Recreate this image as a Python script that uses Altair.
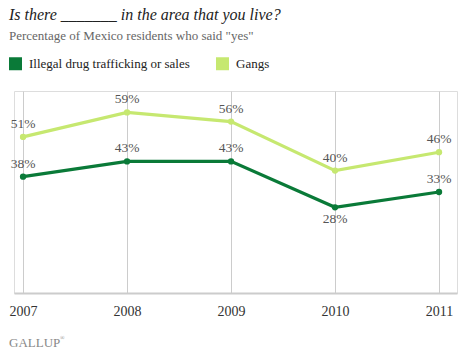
import altair as alt
import pandas as pd

years = [2007, 2008, 2009, 2010, 2011]
drug = [38, 43, 43, 28, 33]
gangs = [51, 59, 56, 40, 46]
series_names = ["Illegal drug trafficking or sales", "Gangs"]
colors = ["#0a7a38", "#c6e870"]

title_text = "Is there _______ in the area that you live?"
subtitle_text = 'Percentage of Mexico residents who said "yes"'
source_text = "GALLUP"

rows = []
for y, d, g in zip(years, drug, gangs):
    rows.append({"year": y, "series": series_names[0], "value": d,
                 "label": f"{d}%", "below": y == 2010})
    rows.append({"year": y, "series": series_names[1], "value": g,
                 "label": f"{g}%", "below": False})
df = pd.DataFrame(rows)

FONT = "Liberation Serif"

x_enc = alt.X(
    "year:Q",
    scale=alt.Scale(domain=[2006.913, 2011.173], nice=False, zero=False),
    axis=alt.Axis(values=years, format="d", title=None, grid=True,
                  gridColor="#cccccc", gridWidth=1, domainColor="#cccccc",
                  domainWidth=2, ticks=False, labelFont=FONT,
                  labelFontSize=14, labelColor="#333333", labelPadding=11,
                  labelFlush=False, labelOverlap=False),
)
y_enc = alt.Y("value:Q", scale=alt.Scale(domain=[0, 66], nice=False), axis=None)
color_scale = alt.Scale(domain=series_names, range=colors)

legend = alt.Legend(
    title=None, orient="none", legendX=-5, legendY=-34, direction="horizontal",
    symbolType="square", symbolSize=169, symbolStrokeWidth=0,
    labelFont=FONT, labelFontSize=13, labelColor="#222222", labelLimit=400,
    labelOffset=7, columnPadding=26, padding=0, symbolOpacity=1,
)

base = alt.Chart(df)

lines = base.mark_line(strokeWidth=3.2).encode(
    x=x_enc, y=y_enc,
    color=alt.Color("series:N", scale=color_scale, legend=legend),
)
points = base.mark_circle(size=40, opacity=1).encode(
    x=x_enc, y=y_enc,
    color=alt.Color("series:N", scale=color_scale, legend=legend),
)
labels_above = base.transform_filter("!datum.below").mark_text(
    font=FONT, fontSize=13.5, color="#555555", dy=-13
).encode(x=x_enc, y=y_enc, text="label:N")
labels_below = base.transform_filter("datum.below").mark_text(
    font=FONT, fontSize=13.5, color="#555555", dy=12
).encode(x=x_enc, y=y_enc, text="label:N")

title = alt.Chart(pd.DataFrame({"t": [title_text]})).mark_text(
    font=FONT, fontSize=16, fontStyle="italic", align="left",
    baseline="alphabetic", color="#222222"
).encode(x=alt.value(-5), y=alt.value(-71), text="t:N")
subtitle = alt.Chart(pd.DataFrame({"t": [subtitle_text]})).mark_text(
    font=FONT, fontSize=13, align="left", baseline="alphabetic", color="#666666"
).encode(x=alt.value(-5), y=alt.value(-51), text="t:N")
source = alt.Chart(pd.DataFrame({"t": [source_text]})).mark_text(
    font=FONT, fontSize=13, align="left", baseline="alphabetic", color="#888888"
).encode(x=alt.value(-5), y=alt.value(256), text="t:N")
reg = alt.Chart(pd.DataFrame({"t": ["®"]})).mark_text(
    font=FONT, fontSize=6, align="left", baseline="alphabetic", color="#888888"
).encode(x=alt.value(46), y=alt.value(249), text="t:N")

chart = alt.layer(lines, points, labels_above, labels_below, title, subtitle,
                  source, reg).properties(
    width=443, height=202,
    padding={"left": 14, "top": 91, "right": 7, "bottom": 61},
    autosize=alt.AutoSizeParams(type="none"),
).configure_view(stroke=None).configure(background="white")

chart.save("out.html", embed_options={"renderer": "svg", "actions": False})
